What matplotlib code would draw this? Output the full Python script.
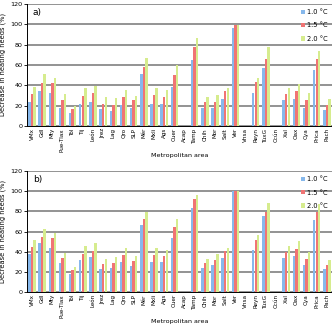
import numpy as np
import matplotlib
matplotlib.use('Agg')
import matplotlib.pyplot as plt

# metropolitan areas
cities = ['VMx', 'Gdl', 'Mty', 'Pue-Tlax', 'Tol', 'Tij', 'León', 'Jrez', 'Lag', 'Qro',
          'SLP', 'Mér', 'Mxli', 'Ags', 'Cuer', 'Acap', 'Tamp', 'Chih', 'Mor', 'Salt',
          'Ver', 'Vhsa', 'Reyn', 'TuxG', 'Ccún', 'Xal', 'Oax', 'Cya', 'Prica', 'Pach']

# panel a) decrease in heating needs (%)
a_10 = [24, 34, 32, 18, 13, 22, 24, 17, 15, 21, 18, 51, 22, 22, 38, 0, 65, 18, 18, 26,
        96, 0, 32, 57, 0, 25, 26, 18, 55, 16]
a_15 = [31, 42, 42, 25, 17, 29, 32, 22, 21, 28, 25, 58, 30, 28, 50, 0, 78, 24, 24, 34,
        99, 0, 43, 66, 0, 31, 34, 25, 66, 21]
a_20 = [38, 51, 47, 31, 20, 37, 39, 28, 27, 35, 29, 67, 37, 35, 60, 0, 86, 28, 30, 37,
        99, 0, 47, 78, 0, 37, 41, 32, 74, 26]

# panel b)
b_10 = [38, 49, 44, 29, 18, 32, 35, 23, 24, 30, 26, 66, 30, 30, 54, 0, 83, 24, 27, 34,
        100, 0, 42, 75, 0, 34, 36, 27, 71, 23]
b_15 = [45, 55, 54, 34, 22, 38, 41, 28, 29, 37, 31, 72, 37, 36, 64, 0, 92, 29, 32, 41,
        100, 0, 52, 79, 0, 40, 43, 33, 79, 27]
b_20 = [52, 62, 59, 39, 25, 46, 49, 33, 35, 44, 36, 79, 44, 42, 72, 0, 96, 33, 38, 44,
        100, 0, 57, 88, 0, 46, 51, 40, 87, 32]

labels = ['1.0 °C', '1.5 °C', '2.0 °C']
colors = ['#86b8ec', '#f07474', '#d6ec8e']

fig = plt.figure(figsize=(3.32, 3.27), dpi=100)
ax_a = fig.add_axes([0.081, 0.615, 0.919, 0.373])
ax_b = fig.add_axes([0.081, 0.107, 0.919, 0.370])

x = np.arange(len(cities))
w = 0.25

for ax, series, tag in [(ax_a, [a_10, a_15, a_20], 'a)'), (ax_b, [b_10, b_15, b_20], 'b)')]:
    for i, vals in enumerate(series):
        ax.bar(x + (i - 1) * w, vals, w * 0.95, color=colors[i], label=labels[i], zorder=3)
    ax.set_ylim(0, 120)
    ax.set_yticks(range(0, 121, 20))
    ax.set_xlim(-0.5, len(cities) - 0.5)
    ax.set_xticks(x)
    ax.set_xticklabels(cities, rotation=90, fontsize=4.1)
    ax.tick_params(axis='y', labelsize=4.6, length=2, width=0.6, pad=1)
    ax.tick_params(axis='x', length=0, pad=1.5)
    ax.grid(axis='y', color='#8a8a8a', linewidth=1.3, zorder=0)
    for s in ['top', 'right']:
        ax.spines[s].set_visible(False)
    ax.spines['left'].set_linewidth(0.7)
    ax.spines['bottom'].set_linewidth(0.7)
    ax.set_ylabel('Decrease in heating needs (%)', fontsize=4.8, labelpad=3)
    ax.set_xlabel('Metropolitan area', fontsize=4.6, labelpad=1)
    ax.text(0.02, 0.93, tag, transform=ax.transAxes, fontsize=6.5, va='center')
    leg = ax.legend(loc='upper right', bbox_to_anchor=(1.0, 0.99), fontsize=4.8, frameon=False,
                    handlelength=0.6, handleheight=0.6, handletextpad=0.3, labelspacing=1.1,
                    borderaxespad=0.2)

fig.savefig('out.png', dpi=100)
